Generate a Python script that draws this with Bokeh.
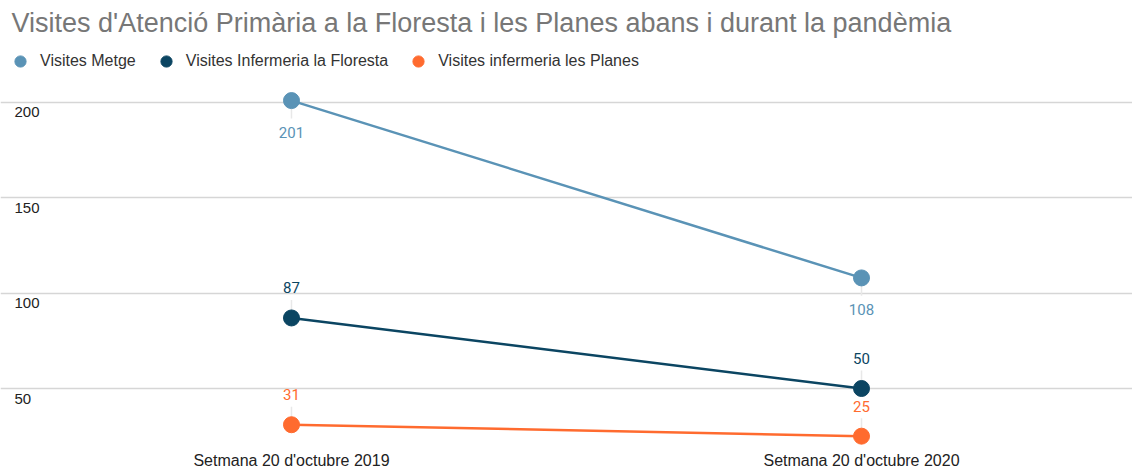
from bokeh.plotting import figure
from bokeh.models import (Range1d, FixedTicker, Grid, Legend, LegendItem, ColumnDataSource)
from bokeh.core.properties import value
from bokeh.embed import file_html
from bokeh.resources import INLINE

# ---- data ----
title_text = "Visites d'Atenció Primària a la Floresta i les Planes abans i durant la pandèmia"
categories = ["Setmana 20 d'octubre 2019", "Setmana 20 d'octubre 2020"]
series_names = ["Visites Metge", "Visites Infermeria la Floresta", "Visites infermeria les Planes"]
metge = [201, 108]
inf_floresta = [87, 50]
inf_planes = [31, 25]
y_ticks = [50, 100, 150, 200]

colors = ["#5a93b6", "#0b4562", "#ff6b2f"]
label_side = ["below", "above", "above"]

W, H = 1132, 471
x_idx = list(range(len(categories)))

p = figure(width=W, height=H, output_backend="svg", toolbar_location=None,
           x_range=Range1d(-0.5105, 1.4754), y_range=Range1d(19.06, 231.46),
           x_axis_location="below", y_axis_location=None,
           min_border_left=0, min_border_right=0, min_border_top=0, min_border_bottom=0)
p.outline_line_color = None
p.background_fill_color = "white"
p.border_fill_color = "white"
p.xgrid.visible = False
for g in p.ygrid:
    g.visible = False

grid = Grid(dimension=1, ticker=FixedTicker(ticks=y_ticks),
            grid_line_color="#d6d6d6", grid_line_width=1.5)
p.add_layout(grid)

# title
p.title.text = title_text
p.title.text_font = "Liberation Sans"
p.title.text_font_size = "27px"
p.title.text_font_style = "normal"
p.title.text_color = "#777777"
p.title.offset = 11

# x axis
ax = p.xaxis[0]
ax.ticker = FixedTicker(ticks=x_idx)
ax.major_label_overrides = {i: c for i, c in enumerate(categories)}
ax.axis_line_color = None
ax.major_tick_line_color = None
ax.minor_tick_line_color = None
ax.major_tick_out = 0
ax.major_tick_in = 0
ax.minor_tick_out = 0
ax.major_label_text_font = "Liberation Sans"
ax.major_label_text_font_size = "16px"
ax.major_label_text_color = "#222222"
ax.major_label_standoff = 4

# y tick labels drawn inside frame, under the gridlines
p.text(x=[p.x_range.start] * len(y_ticks), y=y_ticks, text=[str(t) for t in y_ticks],
       x_offset=14, y_offset=10, text_baseline="alphabetic", text_align="left",
       text_font=value("Liberation Sans"), text_font_size="15px", text_color="#222222")

px_per_unit = 287 / 150.0
items = []
for name, vals, col, side in zip(series_names, [metge, inf_floresta, inf_planes], colors, label_side):
    src = ColumnDataSource(dict(x=x_idx, y=vals, t=[str(v) for v in vals]))
    d = (-18 if side == "below" else 18) / px_per_unit
    p.segment(x0=x_idx, y0=vals, x1=x_idx, y1=[v + d for v in vals],
              line_color="#e8e8e8", line_width=1.5)
    p.line("x", "y", source=src, line_color=col, line_width=2.5)
    r = p.scatter("x", "y", source=src, size=16, fill_color=col, line_color=col)
    p.text("x", "y", text="t", source=src,
           y_offset=(32 if side == "below" else -30), text_baseline="alphabetic", text_align="center",
           text_font=value("Roboto"), text_font_size="15px", text_color=col)
    items.append(LegendItem(label=name, renderers=[r]))

legend = Legend(items=items, orientation="horizontal", location="top_left",
                glyph_width=30, glyph_height=28, label_standoff=5, spacing=15,
                padding=0, margin=5, border_line_color=None, background_fill_alpha=0,
                label_text_font="Liberation Sans", label_text_font_size="16px",
                label_text_color="#333333")
p.add_layout(legend)

open("out.html", "w").write(file_html(p, INLINE))
